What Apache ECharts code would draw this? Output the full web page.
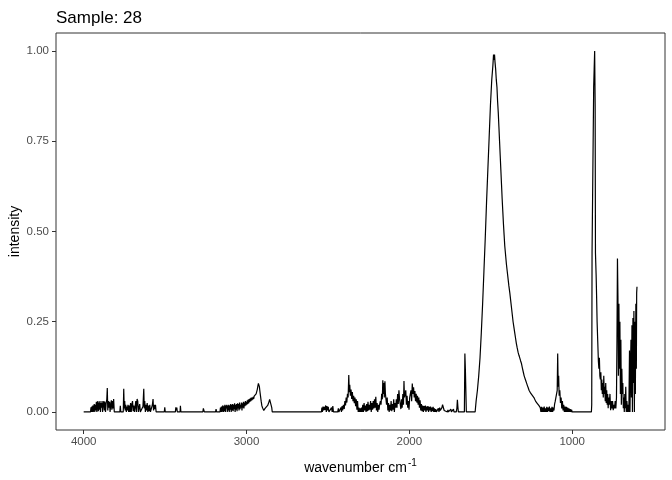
<!DOCTYPE html>
<html>
<head>
<meta charset="utf-8">
<script src="https://cdn.jsdelivr.net/npm/echarts@6/dist/echarts.min.js"></script>
<style>
html,body{margin:0;padding:0;background:#fff;}
#chart{width:672px;height:480px;}
</style>
</head>
<body>
<div id="chart"></div>
<script>
// ---- data: [wavenumber, intensity] ----
const segA = [[4000,0],[3958,0],[3955,0.013],[3952,0],[3950,0.015],[3947,0],[3944,0.018],[3941,0],[3938,0.014],[3935,0.022],[3932,0],[3929,0.02],[3926,0.004],[3922,0.028],[3919,0],[3916,0.024],[3913,0.03],[3910,0.002],[3907,0.026],[3904,0.006],[3900,0.03],[3897,0],[3894,0.025],[3890,0.012],[3887,0.03],[3884,0],[3880,0.022],[3876,0.03],[3873,0.004],[3870,0.028],[3866,0],[3862,0.024],[3858,0.035],[3855,0.066],[3852,0.004],[3848,0.03],[3845,0.012],[3841,0.028],[3838,0],[3834,0.02],[3830,0.032],[3827,0.006],[3823,0.03],[3820,0.01],[3816,0.036],[3812,0],[3778,0],[3775,0.017],[3772,0],[3757,0],[3754,0.064],[3751,0.01],[3748,0.03],[3745,0.004],[3742,0.02],[3738,0],[3735,0.015],[3731,0.004],[3728,0.02],[3724,0],[3720,0.018],[3716,0],[3712,0.025],[3708,0],[3704,0.022],[3700,0.03],[3696,0.002],[3692,0.018],[3688,0],[3684,0.014],[3680,0.03],[3676,0],[3672,0.036],[3668,0.03],[3664,0],[3660,0.012],[3656,0.022],[3652,0],[3640,0],[3636,0.015],[3631,0.064],[3628,0.01],[3625,0.03],[3621,0],[3618,0.02],[3614,0.004],[3610,0.025],[3606,0],[3602,0.018],[3598,0.002],[3594,0.02],[3590,0],[3582,0],[3578,0.02],[3574,0.036],[3571,0.004],[3567,0.02],[3563,0.008],[3559,0.02],[3555,0],[3505,0],[3502,0.013],[3499,0],[3437,0],[3434,0.013],[3431,0.004],[3428,0.012],[3425,0],[3408,0],[3406,0.017],[3403,0]];

const segB = [[3268,0],[3265,0.01],[3262,0.01],[3259,0],[3190,0],[3187,0.008],[3184,0],[3163,0],[3160,0.012],[3157,0],[3154,0.015],[3151,0],[3148,0.012],[3145,0.018],[3142,0],[3139,0.016],[3136,0.002],[3133,0.02],[3130,0],[3127,0.018],[3124,0.01],[3121,0.02],[3118,0],[3115,0.018],[3112,0.004],[3109,0.02],[3106,0],[3103,0.018],[3100,0.006],[3097,0.022],[3094,0],[3091,0.02],[3088,0.004],[3085,0.022],[3082,0.002],[3079,0.02],[3076,0.008],[3073,0.024],[3070,0],[3067,0.02],[3064,0.006],[3061,0.022],[3058,0.002],[3055,0.024],[3052,0.01],[3049,0.022],[3046,0.004],[3043,0.026],[3040,0.008],[3037,0.02],[3034,0.012],[3031,0.026],[3028,0.004],[3025,0.024],[3022,0.012],[3019,0.028],[3016,0.01],[3013,0.026],[3010,0.016],[3007,0.03],[3004,0.018],[3001,0.028],[2998,0.02],[2995,0.032],[2992,0.022],[2989,0.034],[2986,0.024],[2983,0.036],[2980,0.028],[2977,0.038],[2974,0.03],[2971,0.04],[2968,0.032],[2965,0.04],[2962,0.034],[2959,0.042],[2956,0.036],[2953,0.044],[2950,0.04],[2947,0.046],[2944,0.044],[2941,0.05],[2938,0.055],[2934,0.062],[2930,0.072],[2927,0.079],[2924,0.078],[2921,0.07],[2918,0.058],[2914,0.044],[2910,0.03],[2906,0.018],[2902,0.012],[2898,0.008],[2894,0.004],[2890,0.005],[2886,0.01],[2882,0.006],[2878,0.014],[2874,0.01],[2870,0.018],[2866,0.022],[2862,0.028],[2858,0.035],[2854,0.04],[2851,0.04],[2848,0.03],[2845,0.012],[2842,0],[2540,0]];

const segC = [[2537,0.012],[2534,0],[2530,0.015],[2526,0.004],[2522,0.014],[2518,0.006],[2514,0.018],[2510,0],[2506,0.016],[2502,0.004],[2498,0.014],[2494,0],[2490,0],[2482,0],[2478,0.012],[2474,0],[2470,0.016],[2466,0],[2440,0],[2436,0.01],[2433,0],[2424,0],[2420,0.012],[2417,0],[2414,0.016],[2410,0.004],[2405,0.02],[2400,0.008],[2396,0.03],[2392,0.018],[2388,0.04],[2384,0.026],[2380,0.05],[2376,0.04],[2372,0.102],[2369,0.055],[2366,0.075],[2362,0.045],[2358,0.062],[2354,0.036],[2350,0.055],[2346,0.03],[2342,0.045],[2338,0.024],[2334,0.04],[2330,0.016],[2326,0.035],[2322,0.006],[2318,0.03],[2314,0],[2310,0.012],[2306,0],[2302,0.01],[2298,0],[2294,0.012],[2290,0],[2286,0.02],[2282,0],[2278,0.025],[2274,0.004],[2270,0.018],[2266,0],[2262,0.022],[2258,0.002],[2254,0.028],[2250,0.004],[2246,0.02],[2242,0.006],[2238,0.03],[2234,0],[2230,0.025],[2226,0.006],[2222,0.03],[2218,0.01],[2214,0.035],[2210,0.012],[2206,0.042],[2202,0.004],[2198,0.025],[2194,0],[2190,0.02],[2186,0.006],[2182,0.022],[2178,0.03],[2174,0.02],[2170,0.05],[2166,0.035],[2163,0.088],[2160,0.05],[2157,0.08],[2154,0.04],[2150,0.085],[2147,0.05],[2144,0.05],[2140,0.02],[2136,0.04],[2132,0.004],[2128,0.025],[2124,0],[2120,0.02],[2116,0.004],[2112,0.03],[2108,0.002],[2104,0.022],[2100,0.006],[2096,0.035],[2092,0],[2088,0.025],[2084,0.012],[2080,0.035],[2076,0.012],[2072,0.05],[2068,0.022],[2064,0.06],[2060,0.035],[2056,0.04],[2052,0.008],[2048,0.035],[2044,0.012],[2040,0.05],[2036,0.02],[2033,0.086],[2030,0.04],[2026,0.04],[2022,0.06],[2018,0.02],[2014,0.045],[2010,0.012],[2006,0.03],[2002,0.006],[1998,0.04],[1994,0.04],[1990,0.06],[1986,0.03],[1982,0.079],[1978,0.05],[1974,0.068],[1970,0.04],[1966,0.058],[1962,0.03],[1958,0.05],[1954,0.026],[1950,0.045],[1946,0.02],[1942,0.04],[1938,0.012],[1934,0.032],[1930,0.004],[1926,0.022],[1922,0.002],[1918,0.018],[1914,0],[1910,0.016],[1906,0.004],[1902,0.018],[1898,0],[1894,0.015],[1890,0.004],[1886,0.016],[1882,0],[1878,0.014],[1874,0.004],[1870,0.015],[1866,0],[1862,0.012],[1858,0.002],[1854,0.014],[1850,0],[1846,0.01],[1842,0],[1838,0.008],[1834,0],[1826,0],[1822,0.01],[1818,0],[1814,0.012],[1810,0.004],[1806,0],[1800,0.012],[1796,0.02],[1793,0.025],[1790,0.015],[1786,0.004],[1782,0],[1766,0],[1763,0.006],[1760,0],[1748,0],[1745,0.008],[1742,0],[1732,0],[1729,0.008],[1726,0],[1712,0],[1708,0.01],[1705,0.034],[1702,0.015],[1699,0],[1662,0],[1659,0.162],[1656,0.12],[1653,0.12],[1650,0],[1596,0]];

const segD = [[1590,0.03],[1582,0.06],[1574,0.1],[1566,0.15],[1558,0.22],[1550,0.3],[1542,0.39],[1534,0.48],[1526,0.58],[1518,0.67],[1510,0.76],[1502,0.85],[1494,0.92],[1487,0.96],[1483,0.99],[1480,0.975],[1477,0.99],[1474,0.97],[1470,0.95],[1466,0.92],[1462,0.9],[1458,0.86],[1454,0.83],[1450,0.79],[1446,0.75],[1442,0.71],[1438,0.67],[1434,0.63],[1430,0.59],[1426,0.555],[1422,0.52],[1418,0.49],[1414,0.46],[1409,0.435],[1404,0.41],[1399,0.39],[1394,0.37],[1389,0.35],[1383,0.33],[1378,0.31],[1373,0.29],[1368,0.27],[1363,0.25],[1358,0.235],[1353,0.22],[1348,0.205],[1343,0.19],[1338,0.178],[1332,0.165],[1327,0.157],[1322,0.15],[1317,0.142],[1312,0.135],[1306,0.122],[1300,0.11],[1295,0.1],[1291,0.095],[1286,0.088],[1280,0.08],[1275,0.073],[1270,0.067],[1265,0.06],[1260,0.056],[1255,0.052],[1250,0.05],[1245,0.046],[1240,0.044],[1235,0.04],[1230,0.035],[1225,0.03],[1220,0.028],[1215,0.024],[1210,0.02],[1205,0.018],[1200,0.015],[1196,0.012],[1192,0],[1188,0.014],[1184,0],[1180,0.012],[1176,0],[1172,0.015],[1168,0],[1164,0.01],[1160,0],[1156,0.014],[1152,0],[1148,0.012],[1144,0.002],[1140,0.015],[1136,0],[1132,0.01],[1128,0],[1124,0.014],[1120,0],[1116,0.012],[1112,0.004],[1108,0.022],[1104,0.03],[1100,0.035],[1096,0.03],[1092,0.06],[1089,0.162],[1086,0.07],[1083,0.1],[1080,0.045],[1076,0.06],[1072,0.025],[1068,0.04],[1064,0.01],[1060,0.03],[1056,0.004],[1052,0.02],[1048,0],[1044,0.015],[1040,0],[1036,0.014],[1032,0],[1028,0.012],[1024,0],[1020,0.01],[1016,0],[1012,0.008],[1008,0],[1004,0.006],[1000,0],[882,0]];

const segE = [[880,0.02],[878,0.44],[872,0.44],[868,0.9],[865,0.95],[862,1.0],[859,0.85],[857,0.44],[853,0.38],[850,0.32],[847,0.25],[843,0.195],[839,0.14],[836,0.12],[833,0.15],[830,0.1],[827,0.09],[824,0.11],[821,0.06],[818,0.09],[815,0.05],[812,0.08],[809,0.04],[806,0.1],[803,0.05],[800,0.07],[797,0.03],[794,0.08],[791,0.025],[788,0.06],[785,0.02],[782,0.05],[779,0.01],[776,0.04],[772,0.02],[768,0.05],[764,0.005],[760,0.03],[756,0.01],[752,0.03],[748,0.005],[744,0.02],[740,0.01],[736,0.03],[732,0.01],[728,0.04],[725,0.2],[722,0.425],[719,0.32],[716,0.1],[713,0.3],[710,0.12],[707,0.25],[704,0.05],[701,0.2],[698,0.02],[695,0.12],[692,0.05],[689,0.08],[686,0.01],[683,0.04],[680,0],[677,0.05],[674,0.01],[671,0.07],[668,0],[664,0.03],[660,0],[656,0.02],[652,0],[648,0.17],[645,0],[642,0.12],[639,0.2],[636,0.04],[633,0.24],[630,0],[627,0.26],[624,0.08],[621,0.28],[618,0],[615,0.25],[612,0.05],[609,0.3],[606,0.12],[604,0.33],[602,0.347]];

const spectrum = segA.concat(segB, segC, segD, segE);

const xTicks = [4000, 3000, 2000, 1000];
const yTicks = [0, 0.25, 0.5, 0.75, 1];
const titleText = 'Sample: 28';

const chart = echarts.init(document.getElementById('chart'), null, {renderer: 'canvas'});
const labelColor = '#4D4D4D';
const lineColor = '#333333';
chart.setOption({
  animation: false,
  backgroundColor: '#ffffff',
  title: {
    text: titleText, left: 51, top: 5,
    textStyle: {fontFamily: 'Liberation Sans', fontSize: 17, fontWeight: 'normal', color: '#000'}
  },
  grid: {left: 56, right: 7, top: 33, bottom: 50, containLabel: false, outerBoundsMode: 'none',
    show: true, borderColor: lineColor, borderWidth: 1, backgroundColor: 'transparent'},
  xAxis: {
    type: 'value', inverse: true, min: 430, max: 4170,
    name: '{a|wavenumber cm}{b|-1}', nameLocation: 'middle', nameGap: 28,
    nameTextStyle: {
      rich: {
        a: {fontFamily: 'Liberation Sans', fontSize: 14, color: '#000', lineHeight: 18},
        b: {fontFamily: 'Liberation Sans', fontSize: 10, color: '#000', padding: [0, 0, 10, 1]}
      }
    },
    axisLine: {show: false, onZero: false},
    axisTick: {show: true, length: 4, lineStyle: {color: lineColor, width: 1}, customValues: xTicks},
    axisLabel: {show: true, customValues: xTicks, color: labelColor, fontFamily: 'Liberation Sans', fontSize: 11.5, margin: 6,
      formatter: v => String(v)},
    splitLine: {show: false}
  },
  yAxis: {
    type: 'value', min: -0.05, max: 1.05,
    name: 'intensity', nameLocation: 'middle', nameGap: 34, nameRotate: 90, nameMoveOverlap: false,
    nameTextStyle: {fontFamily: 'Liberation Sans', fontSize: 14, color: '#000'},
    axisLine: {show: false, onZero: false},
    axisTick: {show: true, length: 4, lineStyle: {color: lineColor, width: 1}, customValues: yTicks},
    axisLabel: {show: true, customValues: yTicks, color: labelColor, fontFamily: 'Liberation Sans', fontSize: 11.5, margin: 7,
      formatter: v => v.toFixed(2)},
    splitLine: {show: false}
  },
  series: [{
    type: 'line', data: spectrum, showSymbol: false, symbol: 'none',
    sampling: null,
    lineStyle: {color: '#000', width: 1.2},
    emphasis: {disabled: true}
  }]
});
</script>
</body>
</html>
